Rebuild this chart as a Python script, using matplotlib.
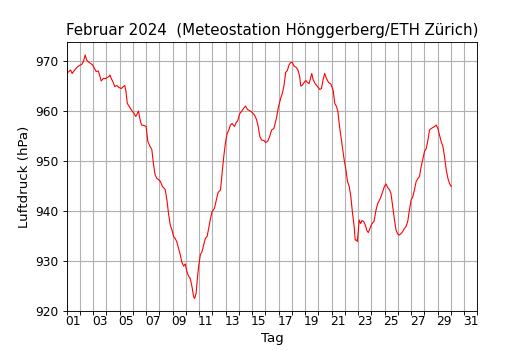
import numpy as np
import matplotlib
matplotlib.use("Agg")
import matplotlib.pyplot as plt
from matplotlib.ticker import FixedLocator, NullFormatter

# time in days of month (1.0 = 1 Feb 00:00), pressure in hPa
tag = [
    1.00, 1.17, 1.30, 1.42, 1.55, 1.67, 1.85, 2.05, 2.17, 2.30, 2.40, 2.51,
    2.61, 2.81, 2.96, 3.11, 3.23, 3.39, 3.52, 3.61, 3.77, 3.95, 4.07, 4.20,
    4.27, 4.37, 4.52, 4.63, 4.78, 4.95, 5.13, 5.28, 5.39, 5.48, 5.58, 5.73,
    5.89, 6.09, 6.22, 6.34, 6.42, 6.55, 6.65, 6.85, 7.00, 7.13, 7.30, 7.43,
    7.55, 7.68, 7.81, 7.93, 8.08, 8.23, 8.44, 8.57, 8.69, 8.82, 8.95, 9.07,
    9.20, 9.33, 9.45, 9.58, 9.70, 9.83, 9.95, 10.08, 10.20, 10.33, 10.46,
    10.58, 10.66, 10.77, 10.86, 10.96, 11.09, 11.22, 11.34, 11.47, 11.60,
    11.72, 11.85, 11.98, 12.15, 12.30, 12.43, 12.61, 12.73, 12.86, 12.98,
    13.11, 13.23, 13.36, 13.49, 13.67, 13.80, 13.92, 14.05, 14.20, 14.35,
    14.50, 14.65, 14.80, 15.01, 15.18, 15.33, 15.46, 15.58, 15.71, 15.89,
    16.02, 16.17, 16.32, 16.47, 16.64, 16.83, 16.98, 17.15, 17.28, 17.40,
    17.53, 17.66, 17.78, 17.91, 18.04, 18.16, 18.34, 18.46, 18.59, 18.67,
    18.80, 18.92, 19.05, 19.17, 19.30, 19.42, 19.50, 19.60, 19.75, 19.93,
    20.11, 20.23, 20.36, 20.48, 20.61, 20.77, 20.94, 21.11, 21.24, 21.37,
    21.47, 21.57, 21.70, 21.83, 21.95, 22.08, 22.20, 22.33, 22.45, 22.58,
    22.70, 22.78, 22.86, 22.94, 23.02, 23.08, 23.19, 23.29, 23.42, 23.54,
    23.67, 23.77, 23.89, 24.05, 24.20, 24.35, 24.48, 24.60, 24.73, 24.86,
    24.98, 25.11, 25.23, 25.36, 25.48, 25.61, 25.73, 25.86, 25.99, 26.11,
    26.24, 26.37, 26.49, 26.62, 26.75, 26.87, 27.00, 27.13, 27.25, 27.38,
    27.51, 27.63, 27.76, 27.89, 28.01, 28.14, 28.27, 28.39, 28.52, 28.65,
    28.77, 28.89, 29.02, 29.14, 29.27, 29.40, 29.52, 29.65, 29.78, 29.90,
    30.03,
]
luftdruck = [
    967.5, 967.9, 968.2, 967.5, 968.0, 968.4, 968.9, 969.2, 969.4, 970.2, 971.2, 970.2,
    969.9, 969.5, 969.2, 968.5, 967.9, 968.0, 966.9, 966.0, 966.5, 966.5, 966.7, 966.9,
    967.2, 966.5, 965.7, 964.9, 965.1, 964.7, 964.5, 964.9, 965.1, 963.9, 961.5, 960.9,
    960.2, 959.5, 958.9, 959.5, 960.0, 958.2, 957.2, 957.1, 956.9, 953.9, 952.9, 952.3,
    949.5, 947.2, 946.5, 946.3, 945.9, 944.9, 944.3, 942.2, 939.5, 937.2, 936.2, 934.9,
    934.5, 933.7, 932.5, 931.2, 929.7, 929.0, 929.4, 927.9, 927.0, 926.5, 924.9,
    922.9, 922.5, 923.5, 926.2, 928.9, 931.2, 931.9, 933.2, 934.5, 934.9,
    936.5, 938.4, 939.9, 940.5, 942.2, 943.7, 944.2, 947.5, 950.9, 953.5,
    955.5, 956.1, 957.2, 957.5, 956.9, 957.7, 958.1, 959.4, 959.9, 960.5,
    961.0, 960.3, 960.1, 959.7, 959.2, 958.3, 956.9, 954.9, 954.2, 954.1,
    953.7, 953.9, 954.9, 956.2, 956.5, 958.5, 960.7, 962.5, 963.5, 965.0,
    967.7, 968.1, 969.2, 969.7, 969.7, 969.0, 968.7, 968.2, 966.9, 965.0,
    965.2, 965.7, 966.1, 965.7, 965.5, 966.7, 967.5, 966.3, 965.5, 964.9,
    964.3, 964.5, 966.3, 967.5, 966.5, 965.7, 965.4, 964.2, 961.5, 960.9,
    959.9, 957.5, 954.9, 952.5, 950.2, 948.2, 945.9, 944.9, 942.9, 939.5,
    936.9, 934.2, 934.2, 933.9, 936.2, 938.2, 937.5, 938.1, 937.9, 937.2,
    936.0, 935.7, 936.5, 937.5, 937.9, 940.2, 941.5, 942.1, 942.9, 943.9,
    944.9, 945.4, 944.7, 944.3, 943.5, 940.9, 938.5, 936.2, 935.4, 935.2,
    935.5, 935.9, 936.5, 936.9, 938.0, 940.2, 942.2, 942.9, 944.2, 945.9,
    946.5, 946.9, 948.9, 950.5, 951.9, 952.5, 954.2, 956.2, 956.5, 956.7,
    956.9, 957.2, 956.5, 955.2, 953.9, 952.9, 950.9, 948.2, 946.5, 945.5,
    944.9,
]

tage = np.arange(1, 33)                 # day boundaries (ticks + grid)
label_pos = np.arange(1.5, 32.5, 2)     # label at noon of odd days
tag_labels = [f"{d:02d}" for d in range(1, 32, 2)]
y_ticks = [920, 930, 940, 950, 960, 970]

fig = plt.figure(figsize=(6.625, 4.375), dpi=80)
ax = fig.add_axes([0.1257, 0.1114, 0.775, 0.7686])

ax.plot(tag, luftdruck, color="red", linewidth=1.0)

ax.set_xlim(1, 32)
ax.set_ylim(920, 973.8)
ax.xaxis.set_major_locator(FixedLocator(tage))
ax.xaxis.set_major_formatter(NullFormatter())
ax.xaxis.set_minor_locator(FixedLocator(label_pos))
ax.set_xticklabels(tag_labels, minor=True)
ax.tick_params(axis="x", which="minor", length=0, labelsize=11)
ax.set_yticks(y_ticks)
ax.tick_params(axis="y", labelsize=11)
ax.grid(True, which="major", color="#b0b0b0", linewidth=1.0)

ax.set_title("Februar 2024  (Meteostation Hönggerberg/ETH Zürich)", fontsize=13.5)
ax.set_xlabel("Tag", fontsize=12)
ax.set_ylabel("Luftdruck (hPa)", fontsize=12)

fig.savefig("out.png", dpi=80)
